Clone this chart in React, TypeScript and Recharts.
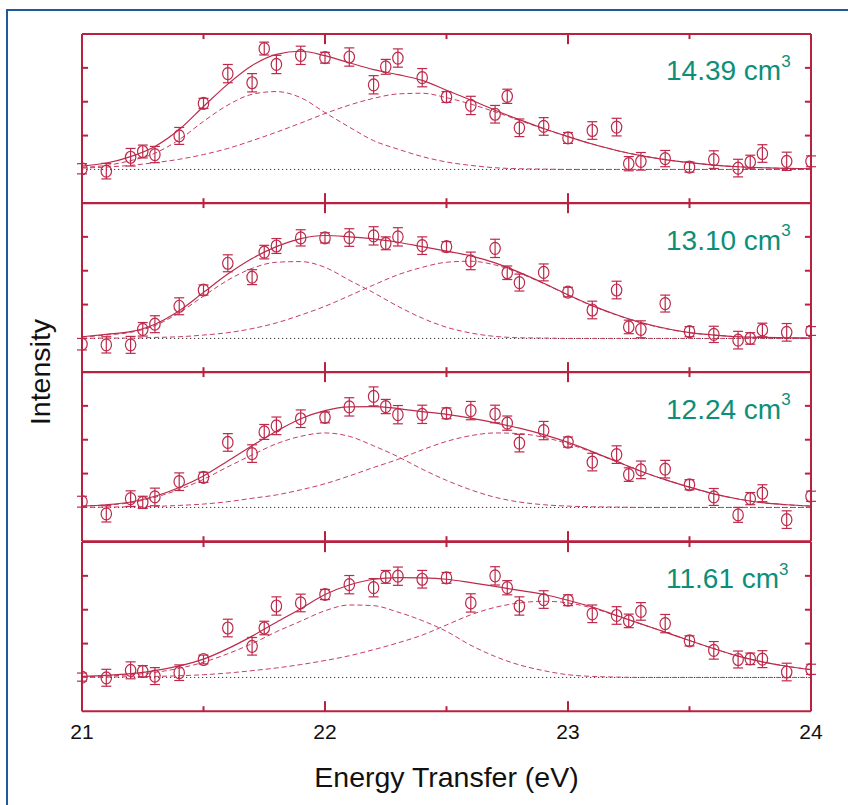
import React from 'react';
import {
  ComposedChart,
  Line,
  Scatter,
  ErrorBar,
  XAxis,
  YAxis,
  ReferenceLine,
  Label,
} from 'recharts';

// ---------- data ----------
const curveEnergies = [
  21.0, 21.1, 21.2, 21.3, 21.4, 21.5, 21.6, 21.7, 21.8, 21.9, 22.0, 22.1, 22.2, 22.3, 22.4, 22.5,
  22.6, 22.7, 22.8, 22.9, 23.0, 23.1, 23.2, 23.3, 23.4, 23.5, 23.6, 23.7, 23.8, 23.9, 24.0,
];

const pointEnergies = [
  21.0, 21.1, 21.2, 21.25, 21.3, 21.4, 21.5, 21.6, 21.7, 21.75, 21.8, 21.9, 22.0, 22.1, 22.2, 22.25,
  22.3, 22.4, 22.5, 22.6, 22.7, 22.75, 22.8, 22.9, 23.0, 23.1, 23.2, 23.25, 23.3, 23.4, 23.5, 23.6,
  23.7, 23.75, 23.8, 23.9, 24.0,
];

const densityLabels = ['14.39', '13.10', '12.24', '11.61'];
const xTickLabels = [21, 22, 23, 24];
const yTickValues = [1, 2, 3];
const halfTicks = [21.5, 22.5, 23.5];
const wholeTicks = [22, 23];

// 14.39 cm3
const obs1439 = [
  0.02, -0.05, 0.36, 0.53, 0.44, 0.99, 1.95, 2.83, 2.56, 3.57, 3.1, 3.37, 3.3, 3.32, 2.5, 3.03,
  3.29, 2.71, 2.14, 1.89, 1.63, 2.16, 1.23, 1.27, 0.93, 1.15, 1.25, 0.17, 0.24, 0.32, 0.07, 0.29,
  0.04, 0.22, 0.47, 0.24, 0.24,
];
const err1439 = [
  0.15, 0.23, 0.26, 0.19, 0.24, 0.25, 0.15, 0.27, 0.27, 0.19, 0.27, 0.27, 0.16, 0.27, 0.27, 0.22,
  0.27, 0.27, 0.16, 0.27, 0.26, 0.21, 0.26, 0.26, 0.16, 0.26, 0.26, 0.21, 0.26, 0.24, 0.15, 0.26,
  0.26, 0.2, 0.26, 0.27, 0.16,
];
const fit1439 = [
  0.1, 0.19, 0.38, 0.68, 1.18, 1.86, 2.52, 3.07, 3.4, 3.49, 3.36, 3.15, 2.95, 2.8, 2.63, 2.34,
  2.05, 1.75, 1.47, 1.21, 0.97, 0.75, 0.56, 0.41, 0.29, 0.2, 0.13, 0.08, 0.05, 0.03, 0.02,
];
const peakA1439 = [
  0.06, 0.12, 0.26, 0.48, 0.88, 1.42, 1.9, 2.22, 2.3, 2.12, 1.68, 1.25, 0.85, 0.6, 0.38, 0.22,
  0.12, 0.05, 0.02, 0.01, 0, 0, 0, 0, 0, 0, 0, 0, 0, 0, 0,
];
const peakB1439 = [
  0.04, 0.07, 0.12, 0.2, 0.3, 0.44, 0.62, 0.85, 1.1, 1.37, 1.65, 1.9, 2.1, 2.23, 2.25, 2.12,
  1.93, 1.7, 1.45, 1.2, 0.97, 0.75, 0.56, 0.41, 0.29, 0.2, 0.13, 0.08, 0.05, 0.03, 0.02,
];

// 13.10 cm3
const obs1310 = [
  -0.17, -0.19, -0.19, 0.27, 0.42, 0.95, 1.43, 2.22, 1.81, 2.55, 2.73, 2.97, 2.97, 2.98, 3.03, 2.81,
  3.0, 2.74, 2.71, 2.29, 2.66, 1.94, 1.65, 1.95, 1.37, 0.84, 1.43, 0.34, 0.27, 1.03, 0.2, 0.12,
  -0.05, 0.0, 0.25, 0.18, 0.22,
];
const err1310 = [
  0.17, 0.24, 0.25, 0.2, 0.25, 0.25, 0.15, 0.25, 0.22, 0.2, 0.22, 0.24, 0.15, 0.26, 0.27, 0.19,
  0.27, 0.26, 0.15, 0.26, 0.27, 0.2, 0.25, 0.25, 0.14, 0.26, 0.26, 0.2, 0.25, 0.25, 0.15, 0.24,
  0.26, 0.17, 0.2, 0.26, 0.13,
];
const fit1310 = [
  0.05, 0.12, 0.2, 0.42, 0.82, 1.36, 1.9, 2.36, 2.71, 2.95, 3.04, 3.0, 2.94, 2.84, 2.71, 2.58,
  2.44, 2.23, 1.95, 1.63, 1.29, 0.97, 0.7, 0.47, 0.3, 0.17, 0.1, 0.05, 0.03, 0.02, 0.01,
];
const peakA1310 = [
  0.04, 0.1, 0.18, 0.38, 0.76, 1.25, 1.72, 2.07, 2.25, 2.27, 2.1, 1.72, 1.35, 0.95, 0.6, 0.33,
  0.16, 0.06, 0.02, 0.01, 0, 0, 0, 0, 0, 0, 0, 0, 0, 0, 0,
];
const peakB1310 = [
  0, 0.01, 0.01, 0.03, 0.05, 0.1, 0.17, 0.29, 0.46, 0.69, 0.95, 1.26, 1.58, 1.88, 2.1, 2.25,
  2.28, 2.17, 1.93, 1.62, 1.28, 0.96, 0.69, 0.46, 0.29, 0.17, 0.1, 0.05, 0.03, 0.01, 0.01,
];

// 12.24 cm3
const obs1224 = [
  0.17, -0.19, 0.26, 0.15, 0.31, 0.76, 0.89, 1.92, 1.59, 2.23, 2.41, 2.62, 2.66, 2.97, 3.28, 2.98,
  2.74, 2.75, 2.78, 2.86, 2.76, 2.49, 1.9, 2.27, 1.93, 1.34, 1.56, 0.97, 1.11, 1.13, 0.67, 0.31,
  -0.22, 0.26, 0.42, -0.36, 0.33,
];
const err1224 = [
  0.16, 0.24, 0.23, 0.18, 0.26, 0.26, 0.15, 0.26, 0.26, 0.22, 0.26, 0.26, 0.16, 0.27, 0.28, 0.21,
  0.27, 0.27, 0.16, 0.27, 0.26, 0.21, 0.26, 0.27, 0.15, 0.26, 0.26, 0.2, 0.26, 0.26, 0.15, 0.25,
  0.22, 0.18, 0.25, 0.26, 0.15,
];
const fit1224 = [
  0.04, 0.08, 0.16, 0.33, 0.59, 0.93, 1.37, 1.82, 2.25, 2.62, 2.86, 2.97, 2.98, 2.92, 2.83, 2.75,
  2.64, 2.5, 2.34, 2.15, 1.92, 1.65, 1.36, 1.07, 0.82, 0.6, 0.4, 0.25, 0.14, 0.08, 0.04,
];
const peakA1224 = [
  0.04, 0.07, 0.14, 0.3, 0.53, 0.83, 1.2, 1.55, 1.88, 2.1, 2.2, 2.1, 1.82, 1.5, 1.13, 0.8,
  0.52, 0.3, 0.16, 0.08, 0.04, 0.02, 0.01, 0, 0, 0, 0, 0, 0, 0, 0,
];
const peakB1224 = [
  0, 0.01, 0.02, 0.03, 0.06, 0.1, 0.17, 0.27, 0.37, 0.52, 0.7, 0.93, 1.18, 1.42, 1.7, 1.95,
  2.12, 2.2, 2.18, 2.07, 1.88, 1.63, 1.35, 1.07, 0.82, 0.6, 0.4, 0.25, 0.14, 0.08, 0.04,
];

// 11.61 cm3
const obs1161 = [
  0.01, -0.01, 0.21, 0.18, 0.04, 0.14, 0.53, 1.46, 0.92, 1.46, 2.11, 2.2, 2.45, 2.74, 2.65, 2.97,
  2.99, 2.9, 2.94, 2.2, 3.0, 2.65, 2.11, 2.3, 2.28, 1.88, 1.83, 1.67, 1.95, 1.59, 1.08, 0.8,
  0.53, 0.55, 0.54, 0.16, 0.24,
];
const err1161 = [
  0.12, 0.25, 0.25, 0.17, 0.25, 0.23, 0.13, 0.26, 0.26, 0.2, 0.27, 0.26, 0.15, 0.27, 0.27, 0.19,
  0.27, 0.26, 0.16, 0.27, 0.27, 0.21, 0.27, 0.26, 0.16, 0.26, 0.26, 0.2, 0.26, 0.27, 0.15, 0.26,
  0.25, 0.17, 0.25, 0.26, 0.15,
];
const fit1161 = [
  0.03, 0.06, 0.11, 0.2, 0.34, 0.54, 0.85, 1.22, 1.63, 2.03, 2.45, 2.73, 2.9, 2.95, 2.94, 2.9,
  2.8, 2.69, 2.57, 2.45, 2.28, 2.08, 1.83, 1.58, 1.34, 1.09, 0.85, 0.63, 0.46, 0.33, 0.23,
];
const peakA1161 = [
  0.02, 0.04, 0.08, 0.15, 0.27, 0.45, 0.7, 1.0, 1.35, 1.66, 1.97, 2.14, 2.12, 1.93, 1.68, 1.36,
  0.95, 0.62, 0.37, 0.2, 0.08, 0.03, 0.01, 0, 0, 0, 0, 0, 0, 0, 0,
];
const peakB1161 = [
  0, 0.01, 0.02, 0.03, 0.05, 0.08, 0.13, 0.2, 0.28, 0.38, 0.5, 0.64, 0.82, 1.02, 1.25, 1.55,
  1.85, 2.07, 2.2, 2.25, 2.2, 2.05, 1.82, 1.58, 1.34, 1.09, 0.85, 0.63, 0.46, 0.33, 0.23,
];

// ---------- styling ----------
const FONT = '"Liberation Sans", Arial, Helvetica, sans-serif';
const FRAME = '#b8213f';
const RED = '#bd2a4b';
const DASH = '#c63d60';
const TEAL = '#0c8f79';
const BLUE = '#1f5b9a';

const PANEL_H = 169.3;
const PANEL_TOPS = [33.8, 203.1, 372.4, 541.7];
const PLOT_LEFT = 82;
const PLOT_W = 729;
const PAD = 20;
const AXIS_H = 80;

const TICK_LONG = 0.3;
const TICK_SHORT = 0.15;
const SIDE_TICK = 0.025;

type PanelProps = {
  top: number;
  obs: number[];
  err: number[];
  fit: number[];
  peakA: number[];
  peakB: number[];
  last: boolean;
};

const toCurve = (vals: number[]) => curveEnergies.map((x, i) => ({ x, y: vals[i] }));

const Circle = (p: any) => {
  if (p.cx == null || p.cy == null) return null;
  return <ellipse cx={p.cx} cy={p.cy} rx={5.2} ry={6} fill="none" stroke={RED} strokeWidth={1.2} />;
};

const TickText = (p: any) => (
  <text
    x={p.x}
    y={p.y}
    dy={15}
    textAnchor="middle"
    fontSize={21}
    fill="#111"
    fontFamily={FONT}
  >
    {p.payload.value}
  </text>
);

function Panel({ top, obs, err, fit, peakA, peakB, last }: PanelProps) {
  const points = pointEnergies.map((x, i) => ({ x, y: obs[i], err: err[i] }));
  const height = last ? 10 + PANEL_H + AXIS_H + 12 : PANEL_H + 20;
  const frame = (key: string, seg: { x: number; y: number }[]) => (
    <ReferenceLine key={key} segment={seg} stroke={FRAME} strokeWidth={2} ifOverflow="visible" />
  );
  return (
    <div style={{ position: 'absolute', left: PLOT_LEFT - PAD, top: top - 10 }}>
      <ComposedChart
        width={PLOT_W + 2 * PAD}
        height={height}
        margin={{ top: 10, right: PAD, bottom: last ? 12 : 10, left: PAD }}
      >
        <XAxis
          dataKey="x"
          type="number"
          domain={[21, 24]}
          allowDataOverflow
          ticks={xTickLabels}
          hide={!last}
          height={AXIS_H}
          axisLine={false}
          tickLine={false}
          tickSize={6}
          tickMargin={7}
          tick={<TickText />}
        >
          {last && (
            <Label
              value="Energy Transfer (eV)"
              position="insideBottom"
              offset={4}
              style={{ fontSize: 28.5, fill: '#111', fontFamily: FONT }}
            />
          )}
        </XAxis>
        <YAxis dataKey="y" type="number" domain={[-1, 4]} allowDataOverflow hide />

        <ReferenceLine y={0} stroke="#333" strokeWidth={1} strokeDasharray="1.2 2.8" />

        <Line
          data={toCurve(peakA)}
          dataKey="y"
          type="monotone"
          stroke={DASH}
          strokeWidth={1}
          strokeDasharray="5 3"
          dot={false}
          activeDot={false}
          isAnimationActive={false}
        />
        <Line
          data={toCurve(peakB)}
          dataKey="y"
          type="monotone"
          stroke={DASH}
          strokeWidth={1}
          strokeDasharray="5 3"
          dot={false}
          activeDot={false}
          isAnimationActive={false}
        />
        <Line
          data={toCurve(fit)}
          dataKey="y"
          type="monotone"
          stroke={RED}
          strokeWidth={1.2}
          dot={false}
          activeDot={false}
          isAnimationActive={false}
        />

        <Scatter data={points} dataKey="y" shape={Circle} isAnimationActive={false}>
          <ErrorBar dataKey="err" direction="y" width={5} stroke={RED} strokeWidth={1.2} isAnimationActive={false} />
        </Scatter>

        {frame('fl', [{ x: 21, y: -1 }, { x: 21, y: 4 }])}
        {frame('fr', [{ x: 24, y: -1 }, { x: 24, y: 4 }])}
        {frame('ft', [{ x: 21, y: 4 }, { x: 24, y: 4 }])}
        {frame('fb', [{ x: 21, y: -1 }, { x: 24, y: -1 }])}
        {halfTicks.map((t) => frame('th' + t, [{ x: t, y: 4 }, { x: t, y: 4 - TICK_SHORT }]))}
        {halfTicks.map((t) => frame('bh' + t, [{ x: t, y: -1 }, { x: t, y: -1 + TICK_SHORT }]))}
        {wholeTicks.map((t) => frame('tw' + t, [{ x: t, y: 4 }, { x: t, y: 4 - TICK_LONG }]))}
        {wholeTicks.map((t) => frame('bw' + t, [{ x: t, y: -1 }, { x: t, y: -1 + TICK_LONG }]))}
        {yTickValues.map((v) => frame('yl' + v, [{ x: 21, y: v }, { x: 21 + SIDE_TICK, y: v }]))}
        {yTickValues.map((v) => frame('yr' + v, [{ x: 24 - SIDE_TICK, y: v }, { x: 24, y: v }]))}
      </ComposedChart>
    </div>
  );
}

const panels = [
  { obs: obs1439, err: err1439, fit: fit1439, peakA: peakA1439, peakB: peakB1439 },
  { obs: obs1310, err: err1310, fit: fit1310, peakA: peakA1310, peakB: peakB1310 },
  { obs: obs1224, err: err1224, fit: fit1224, peakA: peakA1224, peakB: peakB1224 },
  { obs: obs1161, err: err1161, fit: fit1161, peakA: peakA1161, peakB: peakB1161 },
];

export default function App() {
  return (
    <div
      style={{
        position: 'fixed',
        left: 0,
        top: 0,
        width: 848,
        height: 805,
        overflow: 'hidden',
        background: '#fff',
        fontFamily: FONT,
      }}
    >
      <div
        style={{
          position: 'absolute',
          left: 6,
          top: 9,
          width: 900,
          height: 900,
          border: `2px solid ${BLUE}`,
        }}
      />
      {panels.map((p, i) => (
        <Panel key={i} top={PANEL_TOPS[i]} last={i === panels.length - 1} {...p} />
      ))}
      <svg
        width={848}
        height={805}
        style={{ position: 'absolute', left: 0, top: 0, pointerEvents: 'none' }}
      >
        <text
          x={50}
          y={372}
          transform="rotate(-90 50 372)"
          textAnchor="middle"
          fontSize={28.5}
          fill="#111"
          fontFamily={FONT}
        >
          Intensity
        </text>
        {densityLabels.map((d, i) => (
          <text key={d} x={666} y={PANEL_TOPS[i] + 46.5} fontSize={28} fill={TEAL} fontFamily={FONT}>
            {d} cm
            <tspan dy={-13.5} fontSize={17}>
              3
            </tspan>
          </text>
        ))}
      </svg>
    </div>
  );
}
